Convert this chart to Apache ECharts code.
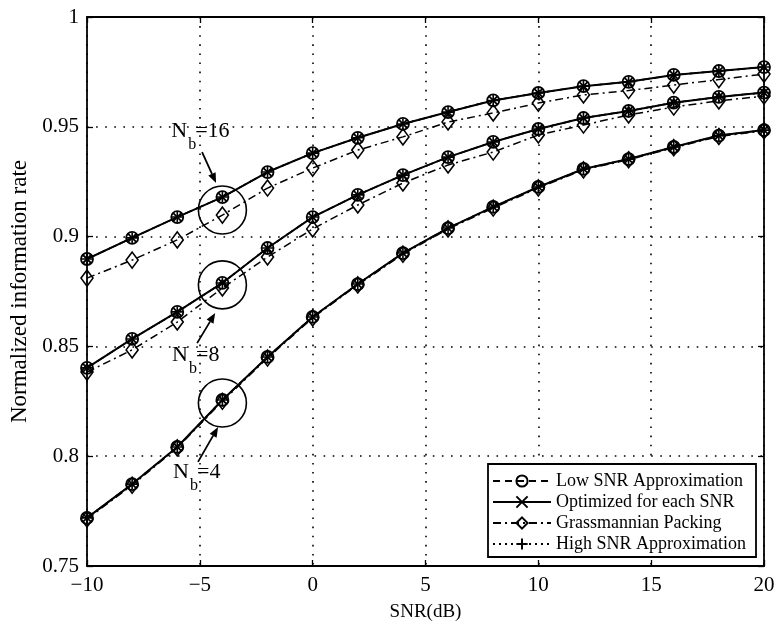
<!DOCTYPE html>
<html><head><meta charset="utf-8">
<script src="https://cdn.jsdelivr.net/npm/echarts@6/dist/echarts.min.js"></script>
<style>html,body{margin:0;padding:0;background:#fff}#c{width:782px;height:624px}</style>
</head><body><div id="c"></div>
<script>
// ---- data ----
const snr = [-10,-8,-6,-4,-2,0,2,4,6,8,10,12,14,16,18,20];
const xTicks = [-10,-5,0,5,10,15,20];
const yTicks = [0.75,0.8,0.85,0.9,0.95,1];

const opt16   = [0.8898,0.8994,0.9089,0.9180,0.9294,0.9380,0.9450,0.9513,0.9567,0.9620,0.9654,0.9685,0.9705,0.9736,0.9754,0.9772];
const low16   = [0.8898,0.8994,0.9089,0.9180,0.9294,0.9380,0.9450,0.9513,0.9567,0.9620,0.9654,0.9685,0.9705,0.9736,0.9754,0.9772];
const high16  = [0.8898,0.8994,0.9089,0.9180,0.9294,0.9380,0.9450,0.9513,0.9567,0.9620,0.9654,0.9685,0.9705,0.9736,0.9754,0.9772];
const grass16 = [0.8811,0.8893,0.8985,0.9098,0.9221,0.9312,0.9394,0.9454,0.9522,0.9563,0.9608,0.9645,0.9665,0.9690,0.9715,0.9740];

const opt8    = [0.8402,0.8534,0.8657,0.8789,0.8948,0.9089,0.9190,0.9280,0.9362,0.9431,0.9490,0.9540,0.9572,0.9610,0.9636,0.9656];
const low8    = [0.8402,0.8534,0.8657,0.8789,0.8948,0.9089,0.9190,0.9280,0.9362,0.9431,0.9490,0.9540,0.9572,0.9610,0.9636,0.9656];
const high8   = [0.8402,0.8534,0.8657,0.8789,0.8948,0.9089,0.9190,0.9280,0.9362,0.9431,0.9490,0.9540,0.9572,0.9610,0.9636,0.9656];
const grass8  = [0.8383,0.8484,0.8611,0.8766,0.8907,0.9035,0.9144,0.9244,0.9326,0.9385,0.9463,0.9508,0.9554,0.9590,0.9618,0.9640];

const opt4    = [0.7719,0.7873,0.8042,0.8256,0.8452,0.8634,0.8784,0.8925,0.9039,0.9135,0.9226,0.9308,0.9353,0.9408,0.9460,0.9485];
const low4    = [0.7719,0.7873,0.8042,0.8256,0.8452,0.8634,0.8784,0.8925,0.9039,0.9135,0.9226,0.9308,0.9353,0.9408,0.9460,0.9485];
const high4   = [0.7719,0.7873,0.8042,0.8256,0.8452,0.8634,0.8784,0.8925,0.9039,0.9135,0.9226,0.9308,0.9353,0.9408,0.9460,0.9485];
const grass4  = [0.7714,0.7868,0.8038,0.8250,0.8447,0.8630,0.8780,0.8920,0.9035,0.9130,0.9222,0.9304,0.9350,0.9405,0.9456,0.9482];

const seriesNames = ['Low SNR Approximation','Optimized for each SNR','Grassmannian Packing','High SNR Approximation'];

// annotations (data coords): label anchor, arrow start, arrow end, circle centre
const annLabels = ['16','8','4'];
const annLabelPos = [[-6.27,0.9481],[-6.23,0.8461],[-6.19,0.7928]];
const annArrowFrom = [[-4.90,0.9385],[-5.12,0.8515],[-5.08,0.7974]];
const annArrowTo = [[-4.28,0.9244],[-4.32,0.8652],[-4.19,0.8133]];
const annCircle = [[-4,0.9121],[-4,0.8780],[-4,0.8242]];

// ---- chart ----
const FONT = 'Liberation Serif';
const chart = echarts.init(document.getElementById('c'), null, {renderer:'canvas'});
const pair = arr => snr.map((x,i)=>[x,arr[i]]);

const styles = {
  'Low SNR Approximation': {line:{type:[7,5],width:1.5}, symbol:'circle', size:12,
     item:{color:'transparent', borderColor:'#000', borderWidth:1.8}},
  'Optimized for each SNR': {line:{type:'solid',width:2}, symbol:'path://M0,0L10,10M10,0L0,10', size:8,
     item:{color:'transparent', borderColor:'#000', borderWidth:1.8}},
  'Grassmannian Packing': {line:{type:[8,4,2,4],width:1.5}, symbol:'diamond', size:[12,16],
     item:{color:'transparent', borderColor:'#000', borderWidth:1.6}},
  'High SNR Approximation': {line:{type:[2,4],width:1.5}, symbol:'path://M5,0L5,10M0,5L10,5', size:11,
     item:{color:'transparent', borderColor:'#000', borderWidth:1.6}}
};
const groups = [
  {low:low16, opt:opt16, grass:grass16, high:high16},
  {low:low8, opt:opt8, grass:grass8, high:high8},
  {low:low4, opt:opt4, grass:grass4, high:high4}
];
const series = [];
seriesNames.forEach(name=>{
  groups.forEach(g=>{
    const key = name.startsWith('Low')?'low':name.startsWith('Opt')?'opt':name.startsWith('Grass')?'grass':'high';
    const s = styles[name];
    series.push({
      name, type:'line', data: pair(g[key]), xAxisIndex:0, yAxisIndex:0,
      symbol:s.symbol, symbolSize:s.size, showSymbol:true,
      lineStyle:Object.assign({color:'#000'}, s.line),
      itemStyle:s.item, animation:false, silent:true
    });
  });
});

const fmtNum = v => String(parseFloat((+v).toFixed(2))).replace('-', '\u2212');
const axisLine = {show:true, onZero:false, lineStyle:{color:'#000', width:1.8}};
const tick = {show:true, inside:true, length:6, lineStyle:{color:'#000', width:1.3}};
const gridLine = {show:true, lineStyle:{color:'#000', type:[1.6,7.5], width:1.6}};

chart.setOption({
  backgroundColor:'#fff',
  animation:false,
  grid:{left:87, right:18, top:17, bottom:58, containLabel:false, outerBoundsMode:'none', show:false},
  xAxis:[
    {type:'value', min:xTicks[0], max:xTicks[xTicks.length-1], interval:5,
     axisLine, axisTick:tick,
     axisLabel:{color:'#000', fontFamily:FONT, fontSize:21, margin:9, formatter:fmtNum},
     splitLine:gridLine,
     name:'SNR(dB)', nameLocation:'middle', nameGap:37,
     nameTextStyle:{color:'#000', fontFamily:FONT, fontSize:19}},
    {type:'value', position:'top', min:xTicks[0], max:xTicks[xTicks.length-1], interval:5,
     axisLine, axisTick:tick, axisLabel:{show:false}, splitLine:{show:false}}
  ],
  yAxis:[
    {type:'value', min:yTicks[0], max:yTicks[yTicks.length-1], interval:0.05,
     axisLine, axisTick:tick,
     axisLabel:{color:'#000', fontFamily:FONT, fontSize:21, margin:8, formatter:fmtNum},
     splitLine:gridLine,
     name:'Normalized information rate', nameLocation:'middle', nameGap:56,
     nameTextStyle:{color:'#000', fontFamily:FONT, fontSize:23}},
    {type:'value', position:'right', min:yTicks[0], max:yTicks[yTicks.length-1], interval:0.05,
     axisLine, axisTick:tick, axisLabel:{show:false}, splitLine:{show:false}}
  ],
  legend:{
    data:seriesNames, orient:'vertical', left:488, top:464, z:20,
    backgroundColor:'transparent', borderWidth:0,
    padding:[8,8,7,4], itemGap:3, itemWidth:58, itemHeight:14,
    textStyle:{color:'#000', fontFamily:FONT, fontSize:18},
    selectedMode:false
  },
  series
});

// annotations
function px(p){ return chart.convertToPixel({xAxisIndex:0, yAxisIndex:0}, p); }
const elements = [];
// legend box
elements.push({type:'rect', shape:{x:488, y:464, width:268, height:93},
  style:{fill:'#fff', stroke:'#000', lineWidth:1.8}, z:10});
annLabels.forEach((lab,i)=>{
  const c = px(annCircle[i]);
  elements.push({type:'circle', shape:{cx:c[0], cy:c[1], r:24}, style:{fill:'none', stroke:'#000', lineWidth:1.6}, z:100});
  const a = px(annArrowFrom[i]), b = px(annArrowTo[i]);
  const dx=b[0]-a[0], dy=b[1]-a[1], L=Math.hypot(dx,dy), ux=dx/L, uy=dy/L;
  const hl=10, hw=4;
  const bx=b[0]-ux*hl, by=b[1]-uy*hl;
  elements.push({type:'line', shape:{x1:a[0], y1:a[1], x2:bx, y2:by}, style:{stroke:'#000', lineWidth:1.8}, z:100});
  elements.push({type:'polygon', shape:{points:[[b[0],b[1]],[bx-uy*hw,by+ux*hw],[bx+uy*hw,by-ux*hw]]}, style:{fill:'#000'}, z:100});
  const t = px(annLabelPos[i]);
  elements.push({type:'text', x:t[0], y:t[1], style:{text:'N', fontFamily:FONT, fontSize:22, fill:'#000', verticalAlign:'middle', align:'left'}, z:100});
  elements.push({type:'text', x:t[0]+17, y:t[1]+14, style:{text:'b', fontFamily:FONT, fontSize:16, fill:'#000', verticalAlign:'middle', align:'left'}, z:100});
  elements.push({type:'text', x:t[0]+24, y:t[1], style:{text:'='+lab, fontFamily:FONT, fontSize:22, fill:'#000', verticalAlign:'middle', align:'left'}, z:100});
});
chart.setOption({graphic:{elements}});
</script></body></html>
